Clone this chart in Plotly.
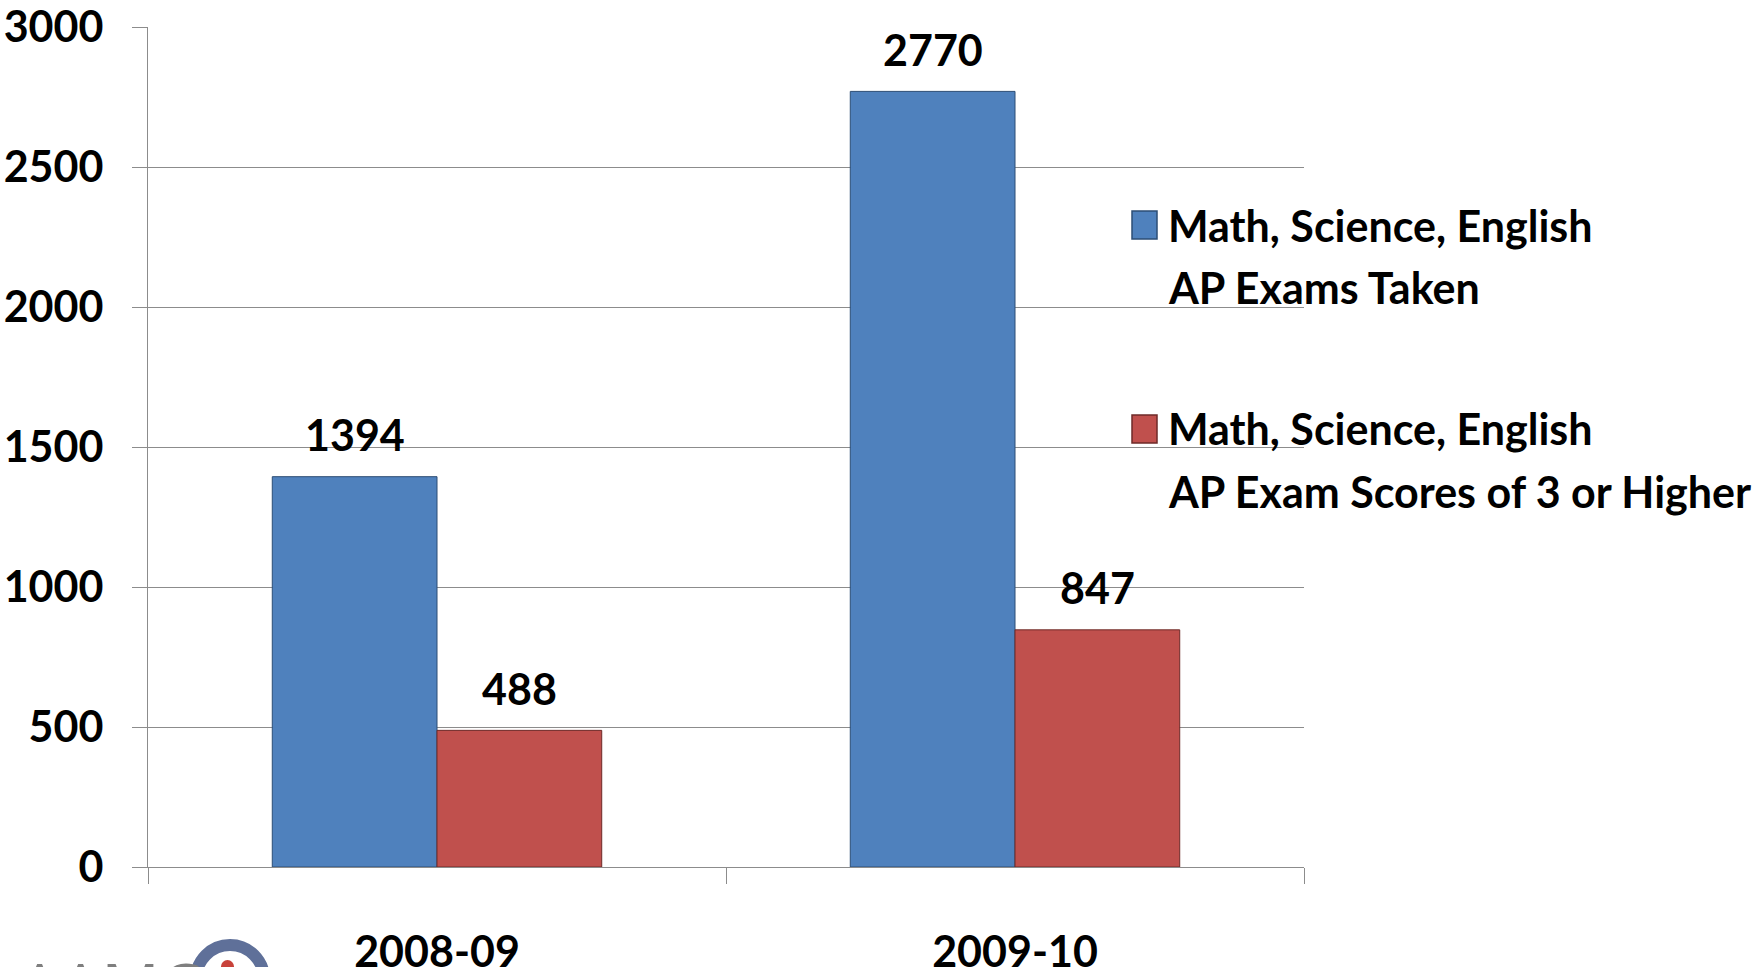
import plotly.graph_objects as go

categories = ["2008-09", "2009-10"]
series_names = [
    ["Math, Science, English", "AP Exams Taken"],
    ["Math, Science, English", "AP Exam Scores of 3 or Higher"],
]
taken = [1394, 2770]
scored = [488, 847]
y_ticks = [0, 500, 1000, 1500, 2000, 2500, 3000]

BLUE = "#4F81BD"
RED = "#C0504D"
BLUE_EDGE = "#2c4d75"
RED_EDGE = "#6e2a28"
GRID = "#8c8c8c"
FONT = "Lato, sans-serif"
FS = 43

W, H = 1764, 967
PL, PR, PT, PB = 148, 1304, 27, 867        # plot area in page pixels
L, T, R, B = PL, PT, W - PR, H - PB
PW, PH = PR - PL, PB - PT

fig = go.Figure()
fig.add_trace(go.Bar(x=categories, y=taken, name=" ".join(series_names[0]),
                     marker=dict(color=BLUE, line=dict(color=BLUE_EDGE, width=1)),
                     showlegend=False))
fig.add_trace(go.Bar(x=categories, y=scored, name=" ".join(series_names[1]),
                     marker=dict(color=RED, line=dict(color=RED_EDGE, width=1)),
                     showlegend=False))

bargap = 0.43
half = (1 - bargap) / 4  # center offset of each bar within a category
annotations = []
for i, (a, b) in enumerate(zip(taken, scored)):
    for off, v in ((-half, a), (half, b)):
        annotations.append(dict(x=i + off, y=v, xref="x", yref="y", text=str(v),
                                showarrow=False, yanchor="middle", yshift=42,
                                font=dict(family=FONT, size=FS, color="black", weight="bold")))

# manual legend (page pixel positions converted to paper coords)
def px(xp):
    return (xp - PL) / PW

def py(yp):
    return (PB - yp) / PH

legend_rows = [(BLUE, BLUE_EDGE, 225, 287, series_names[0]),
               (RED, RED_EDGE, 429, 491, series_names[1])]
shapes = []
for col, edge, y1, y2, names in legend_rows:
    shapes.append(dict(type="rect", xref="paper", yref="paper",
                       x0=px(1132), x1=px(1157), y0=py(y1 - 14), y1=py(y1 + 14),
                       fillcolor=col, line=dict(color=edge, width=1.5)))
    for yy, t in ((y1, names[0]), (y2, names[1])):
        annotations.append(dict(x=px(1166), y=py(yy), xref="paper", yref="paper",
                                text=t, showarrow=False, xanchor="left", yanchor="middle",
                                font=dict(family=FONT, size=FS, color="black", weight="bold")))

# partial logo at bottom-left (mostly below the page edge, as in the source)
annotations.append(dict(x=px(17), y=py(940), xref="paper", yref="paper", text="AAMC",
                        showarrow=False, xanchor="left", yanchor="top",
                        font=dict(family="Open Sans, sans-serif", size=65, color="#7f7f7f")))
shapes.append(dict(type="circle", xref="paper", yref="paper",
                   x0=px(196), x1=px(264), y0=py(945), y1=py(1013),
                   line=dict(color="#5f7099", width=12)))
shapes.append(dict(type="circle", xref="paper", yref="paper",
                   x0=px(221), x1=px(234), y0=py(960), y1=py(973),
                   fillcolor="#c8423a", line=dict(width=0)))

fig.update_layout(
    width=W, height=H,
    margin=dict(l=L, r=R, t=T, b=B, autoexpand=False),
    paper_bgcolor="white", plot_bgcolor="white",
    barmode="group", bargap=bargap, bargroupgap=0,
    annotations=annotations, shapes=shapes,
    showlegend=False,
    font=dict(family=FONT, color="black"),
)
fig.update_xaxes(
    type="category", tickson="boundaries", ticks="outside", ticklen=16, tickcolor=GRID,
    showline=True, linecolor=GRID, linewidth=1, showgrid=False, automargin=False,
    tickfont=dict(family=FONT, size=FS, color="black", weight="bold"),
    ticklabelstandoff=47, ticklabeloverflow="allow",
)
fig.update_yaxes(
    range=[0, 3000], tickvals=y_ticks, ticks="outside", ticklen=15, tickcolor=GRID,
    showline=True, linecolor=GRID, linewidth=1, showgrid=True, gridcolor=GRID, gridwidth=1,
    zeroline=False, automargin=False,
    tickfont=dict(family=FONT, size=FS, color="black", weight="bold"),
    ticklabelstandoff=20, ticklabeloverflow="allow",
)

fig.write_html("out.html", config={"displayModeBar": False},
               post_script="document.body.style.margin='0';document.body.style.overflow='hidden';")
